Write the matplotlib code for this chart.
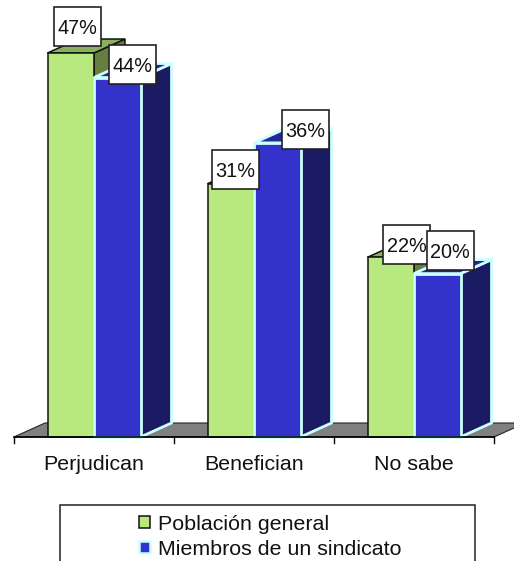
import matplotlib
matplotlib.use("Agg")
import matplotlib.pyplot as plt
from matplotlib.patches import Polygon, Rectangle

plt.rcParams["font.family"] = ["Liberation Sans", "DejaVu Sans"]

categories = ["Perjudican", "Benefician", "No sabe"]
poblacion = [47, 31, 22]
sindicato = [44, 36, 20]
series_names = ["Población general", "Miembros de un sindicato"]

# px per category / px per percent on the original picture
PX_X = 160.0
PX_Y = 8.17
X0 = 14.0
Y0 = 437.0
W, H = 514, 561

bar_w = 46.5 / PX_X
gap = 33.5 / PX_X
dx = 31.0 / PX_X
dy = 14.0 / PX_Y

fig = plt.figure(figsize=(W / 100, H / 100), dpi=100)
ax = fig.add_axes([0, 0, 1, 1])
ax.set_xlim(-X0 / PX_X, (W - X0) / PX_X)
ax.set_ylim((Y0 - H) / PX_Y, Y0 / PX_Y)
ax.axis("off")


def draw_bar(x, v, front, top, side, edge, lw):
    ax.add_patch(Polygon([(x + bar_w, 0), (x + bar_w + dx, dy), (x + bar_w + dx, v + dy), (x + bar_w, v)],
                         fc=side, ec=edge, lw=lw, joinstyle="miter"))
    ax.add_patch(Polygon([(x, v), (x + dx, v + dy), (x + bar_w + dx, v + dy), (x + bar_w, v)],
                         fc=top, ec=edge, lw=lw, joinstyle="miter"))
    ax.add_patch(Rectangle((x, 0), bar_w, v, fc=front, ec=edge, lw=lw))


# floor
n = len(categories)
ax.add_patch(Polygon([(0, 0), (dx, dy), (n + dx, dy), (n, 0)], fc="#808080", ec="#222222", lw=0.8))
for i, c in enumerate(categories):
    ax.text(i + 0.5, -33 / PX_Y, c, ha="center", va="baseline", fontsize=15.4, color="#111111")

for i in range(n):
    x = i + gap
    draw_bar(x, poblacion[i], "#B8E97E", "#8AAF5E", "#667F3F", "#111111", 1.1)
    draw_bar(x + bar_w, sindicato[i], "#3333CC", "#25259A", "#1B1B63", "#CCFFFF", 2.0)

ax.plot([0, n], [0, 0], color="black", lw=1.2)
for i in range(n + 1):
    ax.plot([i, i], [0, -6 / PX_Y], color="black", lw=1)

# value labels, box centre offsets in px from the front top-left of each bar
offs_a = [(30, 26.5), (28, 14), (39, 12.5)]
offs_b = [(38.5, 13), (51.5, 13.5), (36, 23.5)]
for i in range(n):
    x = i + gap
    for xx, v, (ox, oy) in [(x, poblacion[i], offs_a[i]), (x + bar_w, sindicato[i], offs_b[i])]:
        cx = xx + ox / PX_X
        cy = v + oy / PX_Y
        ax.add_patch(Rectangle((cx - 23.5 / PX_X, cy - 19.5 / PX_Y), 47 / PX_X, 39 / PX_Y,
                               fc="white", ec="#222222", lw=1.2, zorder=10))
        ax.text(cx, cy, "%d%%" % v, ha="center", va="center_baseline", fontsize=14.3,
                color="#111111", zorder=11)

# legend, bottom edge of the frame falls off the picture
lax = fig.add_axes([0, 0, 1, 1])
lax.set_xlim(0, W)
lax.set_ylim(H, 0)
lax.axis("off")
lax.add_patch(Rectangle((60, 505), 415, 70, fc="white", ec="#222222", lw=1.1))
lax.add_patch(Rectangle((138.5, 516), 11, 12, fc="#B8E97E", ec="#111111", lw=1.1))
lax.add_patch(Rectangle((139, 541), 11, 12, fc="#3333CC", ec="#CCFFFF", lw=1.8))
lax.text(158, 530, series_names[0], fontsize=15.4, va="baseline", color="#111111")
lax.text(158, 555, series_names[1], fontsize=15.4, va="baseline", color="#111111")

fig.savefig("out.png", dpi=100)
